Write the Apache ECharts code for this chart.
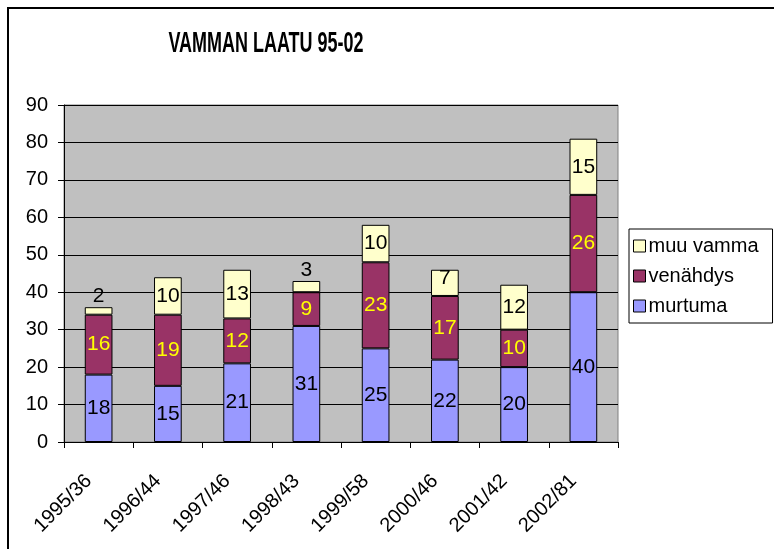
<!DOCTYPE html>
<html>
<head>
<meta charset="utf-8">
<script src="https://cdn.jsdelivr.net/npm/echarts@6/dist/echarts.min.js"></script>
<style>
  html, body { margin: 0; padding: 0; background: #fff; }
  #container { width: 774px; height: 549px; }
</style>
</head>
<body>
<div id="container"></div>
<script>
  var dom = document.getElementById("container");
  var myChart = echarts.init(dom);

  // data
  var categories = ['1995/36', '1996/44', '1997/46', '1998/43', '1999/58', '2000/46', '2001/42', '2002/81'];
  var murtuma = [18, 15, 21, 31, 25, 22, 20, 40];
  var venahdys = [16, 19, 12, 9, 23, 17, 10, 26];
  var muuVamma = [2, 10, 13, 3, 10, 7, 12, 15];
  var yTicks = [0, 10, 20, 30, 40, 50, 60, 70, 80, 90];
  var chartTitle = 'VAMMAN LAATU 95-02';

  var font = 'Arial, "Liberation Sans", sans-serif';

  // small top segments: label sits above the bar, like in excel
  var muuData = muuVamma.map(function (v) {
      if (v <= 3) return { value: v, label: { position: 'top', distance: 0 } };
      if (v <= 7) return { value: v, label: { offset: [0, -5] } };
      return v;
  });

  var option = {
      animation: false,
      backgroundColor: '#fff',

      //reunus + otsikko (kapea fontti -> skaalattu teksti)
      graphic: [{
          type: 'rect',
          shape: { x: 8, y: 8, width: 900, height: 700 },
          style: { fill: null, stroke: '#000', lineWidth: 2 },
          silent: true
      }, {
          type: 'text',
          x: 266,
          y: 44,
          scaleX: 0.62,
          style: {
              text: chartTitle,
              font: 'bold 29px Arial, "Liberation Sans", sans-serif',
              fill: '#000',
              textAlign: 'center',
              textVerticalAlign: 'middle'
          },
          silent: true
      }],

      legend: {
          data: ['muu vamma', 'venähdys', 'murtuma'],
          orient: 'vertical',
          left: 629,
          top: 229,
          padding: [7, 14, 7, 4],
          itemGap: 10,
          itemWidth: 12,
          itemHeight: 12,
          icon: 'rect',
          borderColor: '#000',
          borderWidth: 1,
          backgroundColor: '#fff',
          borderRadius: 0,
          itemStyle: { borderColor: '#000', borderWidth: 1 },
          textStyle: { fontFamily: font, fontSize: 20, color: '#000', padding: [0, 0, 0, -2] }
      },

      grid: {
          left: 64,
          right: 156,
          top: 105,
          bottom: 107,
          show: true,
          backgroundColor: '#C0C0C0',
          borderColor: '#808080',
          borderWidth: 1
      },

      xAxis: {
          type: 'category',
          data: categories,
          axisLine: { lineStyle: { color: '#000', width: 1 } },
          axisTick: { show: true, length: 6, lineStyle: { color: '#000' } },
          axisLabel: {
              rotate: 45,
              margin: 26,
              padding: [0, 14, 0, 0],
              interval: 0,
              fontFamily: font,
              fontSize: 20,
              color: '#000'
          }
      },
      yAxis: {
          type: 'value',
          min: yTicks[0],
          max: yTicks[yTicks.length - 1],
          interval: 10,
          axisLine: { show: true, lineStyle: { color: '#000', width: 1 } },
          axisTick: { show: true, length: 6, lineStyle: { color: '#000' } },
          splitLine: { show: true, lineStyle: { color: '#000', width: 1 } },
          axisLabel: {
              margin: 16,
              fontFamily: font,
              fontSize: 20,
              color: '#000'
          }
      },

      series: [{
          name: 'murtuma',
          type: 'bar',
          stack: 'a',
          barCategoryGap: '60%',
          data: murtuma,
          itemStyle: { color: '#9999FF', borderColor: '#000', borderWidth: 1 },
          label: { show: true, position: 'inside', fontFamily: font, fontSize: 21, color: '#000' }
      }, {
          name: 'venähdys',
          type: 'bar',
          stack: 'a',
          data: venahdys,
          itemStyle: { color: '#993366', borderColor: '#000', borderWidth: 1 },
          label: { show: true, position: 'inside', fontFamily: font, fontSize: 21, color: '#FFFF00' }
      }, {
          name: 'muu vamma',
          type: 'bar',
          stack: 'a',
          data: muuData,
          itemStyle: { color: '#FFFFCC', borderColor: '#000', borderWidth: 1 },
          label: { show: true, position: 'inside', fontFamily: font, fontSize: 21, color: '#000' }
      }]
  };

  if (option && typeof option === "object") {
      myChart.setOption(option, true);
  }
</script>
</body>
</html>
